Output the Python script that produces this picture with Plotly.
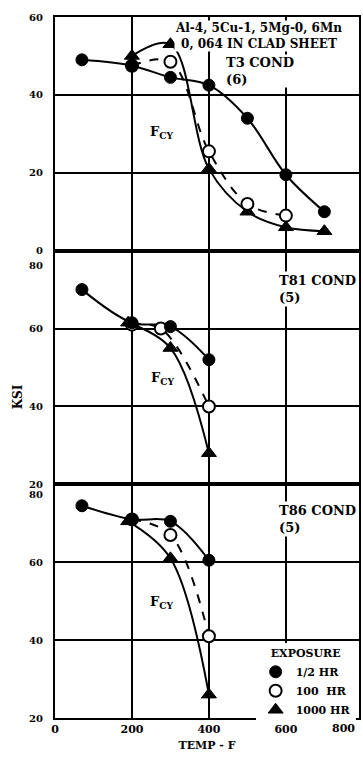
import plotly.graph_objects as go
from plotly.subplots import make_subplots

# ---------------- data ----------------
# T3 condition (top panel)
T3_HALF_TEMP = [70, 200, 300, 400, 500, 600, 700]
T3_HALF_KSI = [49, 47.5, 44.5, 42.5, 34, 19.5, 10]
T3_100_TEMP = [200, 300, 400, 500, 600]
T3_100_KSI = [47.5, 48.5, 25.5, 12, 9]
T3_1000_TEMP = [200, 300, 400, 500, 600, 700]
T3_1000_KSI = [50, 53, 21, 10, 6, 5]

# T81 condition (middle panel)
T81_HALF_TEMP = [70, 200, 300, 400]
T81_HALF_KSI = [70, 61.5, 60.5, 52]
T81_100_TEMP = [200, 275, 400]
T81_100_KSI = [61, 60, 40]
T81_1000_TEMP = [190, 300, 400]
T81_1000_KSI = [61.5, 55, 28]

# T86 condition (bottom panel)
T86_HALF_TEMP = [70, 200, 300, 400]
T86_HALF_KSI = [74.5, 71, 70.5, 60.5]
T86_100_TEMP = [200, 300, 400]
T86_100_KSI = [71, 67, 41]
T86_1000_TEMP = [190, 300, 400]
T86_1000_KSI = [70.5, 61, 26]

X_TICKS = [0, 200, 400, 600]
X_TICK_LABELS = ["0", "200", "400", "600"]
Y_TICKS_T3 = [0, 20, 40, 60]
Y_TICKS_LOWER = [20, 40, 60]
EXPOSURES = ["1/2 HR", "100  HR", "1000 HR"]

FONT = "DejaVu Serif"

fig = make_subplots(rows=3, cols=1, shared_xaxes=True, vertical_spacing=0)

panels = [
    (1, [(T3_HALF_TEMP, T3_HALF_KSI), (T3_100_TEMP, T3_100_KSI), (T3_1000_TEMP, T3_1000_KSI)]),
    (2, [(T81_HALF_TEMP, T81_HALF_KSI), (T81_100_TEMP, T81_100_KSI), (T81_1000_TEMP, T81_1000_KSI)]),
    (3, [(T86_HALF_TEMP, T86_HALF_KSI), (T86_100_TEMP, T86_100_KSI), (T86_1000_TEMP, T86_1000_KSI)]),
]

dashes = ["solid", "dash", "solid"]
markers = [
    dict(symbol="circle", size=12, color="black", line=dict(color="black", width=1)),
    dict(symbol="circle", size=12, color="white", line=dict(color="black", width=2)),
    dict(symbol="triangle-up", size=13, color="black", line=dict(color="black", width=1)),
]

for row, series in panels:
    for i, (tx, ky) in enumerate(series):
        fig.add_trace(go.Scatter(x=tx, y=ky, mode="lines",
                                 line=dict(color="black", width=2, dash=dashes[i], shape="spline", smoothing=1.0),
                                 showlegend=False, hoverinfo="skip"), row=row, col=1)
    for i in [2, 1, 0]:
        tx, ky = series[i]
        fig.add_trace(go.Scatter(x=tx, y=ky, mode="markers", marker=markers[i],
                                 name=EXPOSURES[i], legendgroup=EXPOSURES[i],
                                 legendrank=i, showlegend=(row == 1)), row=row, col=1)

axis_font = dict(family=FONT, size=11, color="black", weight="bold")

for r in (1, 2, 3):
    fig.update_xaxes(range=[0, 790], tickvals=X_TICKS, ticktext=X_TICK_LABELS,
                     showgrid=True, gridcolor="black", gridwidth=2,
                     showline=True, linecolor="black", linewidth=2, mirror=True,
                     ticks="", zeroline=False, tickfont=axis_font,
                     showticklabels=(r == 3), row=r, col=1)

fig.update_yaxes(range=[0, 60], tickvals=Y_TICKS_T3, row=1, col=1)
fig.update_yaxes(range=[20, 80], tickvals=Y_TICKS_LOWER, row=2, col=1)
fig.update_yaxes(range=[20, 80], tickvals=Y_TICKS_LOWER, row=3, col=1)
fig.update_yaxes(showgrid=True, gridcolor="black", gridwidth=2,
                 showline=True, linecolor="black", linewidth=2, mirror=True,
                 ticks="", zeroline=False, ticklabelstandoff=8,
                 tickfont=dict(family=FONT, size=10, color="black", weight="bold"))

fig.update_xaxes(title=dict(text="TEMP - F", font=axis_font, standoff=6), row=3, col=1)

txt = dict(family=FONT, size=12, color="black", weight="bold")
cond = dict(family=FONT, size=13, color="black", weight="bold")
ann = []
ann.append(dict(x=530, y=55.1, xref="x", yref="y", text="Al-4, 5Cu-1, 5Mg-0, 6Mn<br>0, 064 IN CLAD SHEET",
                showarrow=False, font=txt, bgcolor="white", xanchor="center", yanchor="middle", borderpad=0))
ann.append(dict(x=443, y=46.2, xref="x", yref="y", text="T3 COND<br>(6)", align="left",
                showarrow=False, font=cond, bgcolor="white", xanchor="left", yanchor="middle", borderpad=0))
ann.append(dict(x=576, y=70.1, xref="x2", yref="y2", text="T81 COND<br>(5)", align="left",
                showarrow=False, font=cond, bgcolor="white", xanchor="left", yanchor="middle", borderpad=1))
ann.append(dict(x=576, y=71.2, xref="x3", yref="y3", text="T86 COND<br>(5)", align="left",
                showarrow=False, font=cond, bgcolor="white", xanchor="left", yanchor="middle", borderpad=1))
fcy = dict(family=FONT, size=13, color="black", weight="bold")
ann.append(dict(x=278, y=30.3, xref="x", yref="y", text="F<sub>CY</sub>", showarrow=False, font=fcy))
ann.append(dict(x=280, y=47.2, xref="x2", yref="y2", text="F<sub>CY</sub>", showarrow=False, font=fcy))
ann.append(dict(x=278, y=49.7, xref="x3", yref="y3", text="F<sub>CY</sub>", showarrow=False, font=fcy))
ytf = dict(family=FONT, size=10, color="black", weight="bold")
ann.append(dict(x=0, y=80, xref="paper", yref="y2", text="80", showarrow=False, font=ytf,
                xanchor="right", yanchor="middle", xshift=-10, yshift=-15))
ann.append(dict(x=0, y=80, xref="paper", yref="y3", text="80", showarrow=False, font=ytf,
                xanchor="right", yanchor="middle", xshift=-10, yshift=-10))
ann.append(dict(x=1, y=0, xref="paper", yref="paper", text="800", showarrow=False, font=axis_font,
                xanchor="right", yanchor="top", xshift=-2, yshift=-2))
ann.append(dict(x=-0.15, y=0.458, xref="paper", yref="paper", text="KSI", textangle=-90,
                showarrow=False, font=txt))

fig.update_layout(
    width=363, height=762,
    margin=dict(l=55, r=2, t=17, b=44),
    paper_bgcolor="white", plot_bgcolor="white",
    annotations=ann,
    showlegend=True,
    legend=dict(x=0.66, y=0.107, xanchor="left", yanchor="top",
                bgcolor="white", borderwidth=0,
                title=dict(text="EXPOSURE", side="top center",
                           font=dict(family=FONT, size=11, color="black", weight="bold")),
                font=dict(family=FONT, size=11, color="black", weight="bold"),
                tracegroupgap=0, traceorder="normal", itemwidth=30),
    font=dict(family=FONT, color="black"),
)

fig.write_html("out.html", config={"displayModeBar": False},
               post_script="document.body.style.margin='0';document.body.style.overflow='hidden';")
